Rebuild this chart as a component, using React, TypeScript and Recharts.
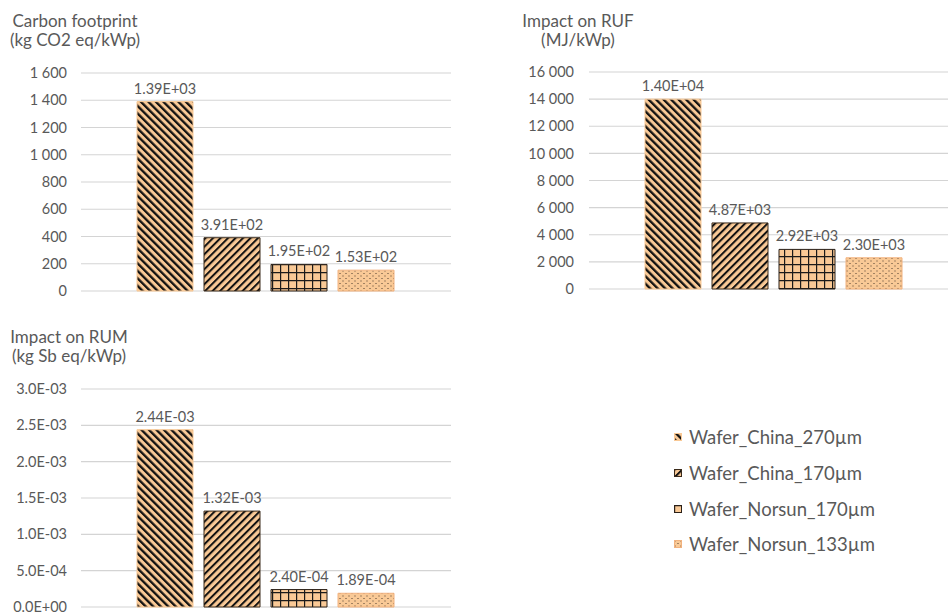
import { Bar, BarChart, CartesianGrid, LabelList, XAxis, YAxis } from "recharts";

const SERIES = ["Wafer_China_270µm", "Wafer_China_170µm", "Wafer_Norsun_170µm", "Wafer_Norsun_133µm"];
const KEYS = ["china270", "china170", "norsun170", "norsun133"];

const CARBON = [1390, 391, 195, 153];
const RUF = [14000, 4870, 2920, 2300];
const RUM = [0.00244, 0.00132, 0.00024, 0.000189];

const CARBON_TICKS = [0, 200, 400, 600, 800, 1000, 1200, 1400, 1600];
const RUF_TICKS = [0, 2000, 4000, 6000, 8000, 10000, 12000, 14000, 16000];
const RUM_TICKS = [0, 0.0005, 0.001, 0.0015, 0.002, 0.0025, 0.003];

const PEACH = "#F9C996";
const TEXT = "#595959";
const GRID = "#D4D4D4";
const FILLS = ["url(#pat-dn)", "url(#pat-up)", "url(#pat-grid)", "url(#pat-dots)"];
const STROKES = [PEACH, "#3a2a1a", "#2a2018", "#F2B27E"];

const spaced = (v: number) => String(v).replace(/\B(?=(\d{3})+(?!\d))/g, " ");

const fmtExp = (v: number, digits: number) => {
  const [m, e] = v.toExponential(digits).split("e");
  return `${m}E${e[0]}${e.slice(1).padStart(2, "0")}`;
};

const toRow = (values: number[]) => {
  const row: Record<string, number | string> = { name: "" };
  KEYS.forEach((k, i) => (row[k] = values[i]));
  return [row];
};

function Patterns() {
  return (
    <svg width={0} height={0} style={{ position: "absolute" }}>
      <defs>
        <pattern id="pat-dn" width={5.3} height={5.3} patternUnits="userSpaceOnUse" patternTransform="rotate(-45)">
          <rect width={5.3} height={5.3} fill={PEACH} />
          <rect width={2.3} height={5.3} fill="#111" />
        </pattern>
        <pattern id="pat-up" width={5.3} height={5.3} patternUnits="userSpaceOnUse" patternTransform="rotate(45)">
          <rect width={5.3} height={5.3} fill={PEACH} />
          <rect width={2} height={5.3} fill="#111" />
        </pattern>
        <pattern id="pat-grid" width={8} height={8} patternUnits="userSpaceOnUse">
          <rect width={8} height={8} fill={PEACH} />
          <path d="M0 0.6H8M0.6 0V8" stroke="#1a1a1a" strokeWidth={1.2} />
        </pattern>
        <pattern id="pat-dots" width={6} height={5} patternUnits="userSpaceOnUse">
          <rect width={6} height={5} fill={PEACH} />
          <rect x={0.5} y={0.5} width={1} height={1} fill="#4a3a2c" />
          <rect x={3.5} y={3} width={1} height={1} fill="#4a3a2c" />
        </pattern>
      </defs>
    </svg>
  );
}

function ImpactChart({
  values,
  ticks,
  tickFmt,
  labelFmt,
  width,
  height,
  margin,
  axisWidth,
  tickMargin,
}: {
  values: number[];
  ticks: number[];
  tickFmt: (v: number) => string;
  labelFmt: (v: number) => string;
  width: number;
  height: number;
  margin: { top: number; right: number; bottom: number; left: number };
  axisWidth: number;
  tickMargin: number;
}) {
  return (
    <BarChart
      width={width}
      height={height}
      data={toRow(values)}
      margin={margin}
      barCategoryGap={56}
      barGap={11}
    >
      <CartesianGrid vertical={false} stroke={GRID} strokeWidth={1.2} />
      <XAxis dataKey="name" hide />
      <YAxis
        width={axisWidth}
        domain={[ticks[0], ticks[ticks.length - 1]]}
        ticks={ticks}
        interval={0}
        axisLine={false}
        tickLine={false}
        tickSize={0}
        tickMargin={tickMargin}
        tickFormatter={tickFmt}
        tick={{ fill: TEXT, fontSize: 14.5 }}
      />
      {KEYS.map((k, i) => (
        <Bar key={k} dataKey={k} name={SERIES[i]} fill={FILLS[i]} stroke={STROKES[i]} strokeWidth={1} isAnimationActive={false}>
          <LabelList dataKey={k} position="top" offset={8} fill={TEXT} fontSize={14.5} formatter={(v: any) => labelFmt(Number(v))} />
        </Bar>
      ))}
    </BarChart>
  );
}

function Title({ lines, cx, top }: { lines: string[]; cx: number; top: number }) {
  return (
    <div
      style={{
        position: "absolute",
        left: cx - 100,
        top,
        width: 200,
        textAlign: "center",
        fontSize: 17,
        lineHeight: "19px",
        color: TEXT,
        whiteSpace: "nowrap",
      }}
    >
      {lines.map((l) => (
        <div key={l}>{l}</div>
      ))}
    </div>
  );
}

const LEGEND_Y = [437, 473, 509, 544];

export default function App() {
  return (
    <div
      style={{
        position: "absolute",
        left: 0,
        top: 0,
        width: 948,
        height: 615,
        overflow: "hidden",
        background: "#fff",
        fontFamily: "Lato, 'Open Sans', sans-serif",
      }}
    >
      <Patterns />

      <Title lines={["Carbon footprint", "(kg CO2 eq/kWp)"]} cx={75} top={11} />
      <div style={{ position: "absolute", left: 0, top: 0 }}>
        <ImpactChart
          values={CARBON}
          ticks={CARBON_TICKS}
          tickFmt={spaced}
          labelFmt={(v) => fmtExp(v, 2)}
          width={470}
          height={310}
          margin={{ top: 73, right: 19, bottom: 19, left: 0 }}
          axisWidth={81}
          tickMargin={14}
        />
      </div>

      <Title lines={["Impact on RUF", "(MJ/kWp)"]} cx={578} top={11} />
      <div style={{ position: "absolute", left: 480, top: 0 }}>
        <ImpactChart
          values={RUF}
          ticks={RUF_TICKS}
          tickFmt={spaced}
          labelFmt={(v) => fmtExp(v, 2)}
          width={490}
          height={310}
          margin={{ top: 72, right: 11, bottom: 21, left: 0 }}
          axisWidth={109}
          tickMargin={15}
        />
      </div>

      <Title lines={["Impact on RUM", "(kg Sb eq/kWp)"]} cx={69} top={327} />
      <div style={{ position: "absolute", left: 0, top: 320 }}>
        <ImpactChart
          values={RUM}
          ticks={RUM_TICKS}
          tickFmt={(v) => fmtExp(v, 1)}
          labelFmt={(v) => fmtExp(v, 2)}
          width={470}
          height={295}
          margin={{ top: 69, right: 19, bottom: 8, left: 0 }}
          axisWidth={81}
          tickMargin={14}
        />
      </div>

      {SERIES.map((s, i) => (
        <div
          key={s}
          style={{
            position: "absolute",
            left: 674,
            top: LEGEND_Y[i] - 11,
            height: 22,
            display: "flex",
            alignItems: "center",
            fontSize: 18.5,
            color: TEXT,
            whiteSpace: "nowrap",
          }}
        >
          <svg width={8} height={8} style={{ marginRight: 7 }}>
            <rect x={0.5} y={0.5} width={7} height={7} fill={FILLS[i]} stroke={STROKES[i]} strokeWidth={1} />
          </svg>
          {s}
        </div>
      ))}
    </div>
  );
}
